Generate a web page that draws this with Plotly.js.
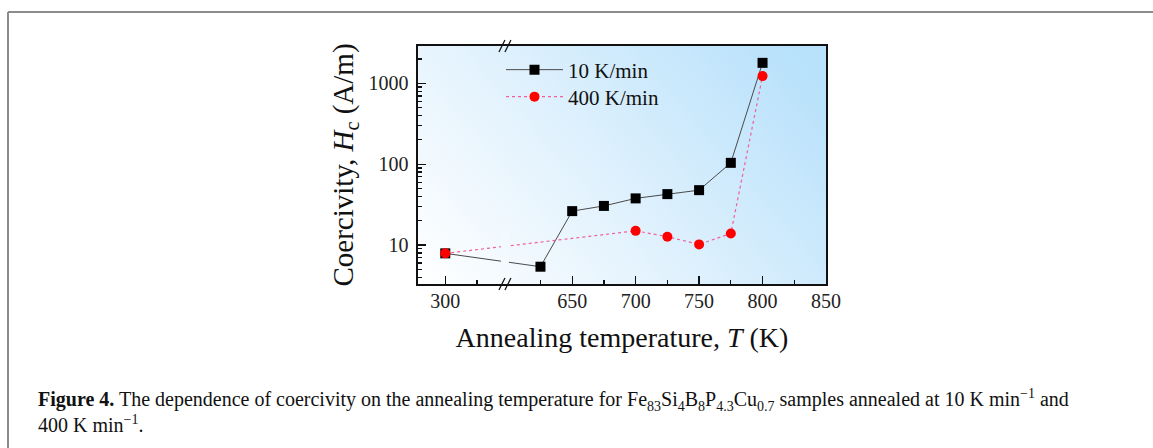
<!DOCTYPE html>
<html>
<head>
<meta charset="utf-8">
<script src="https://cdn.plot.ly/plotly-3.0.1.min.js"></script>
<style>html,body{margin:0;padding:0;background:#fff;}#chart{width:1153px;height:448px;}</style>
</head>
<body>
<div id="chart"></div>
<script>
// ---- data ----
var temps10 = [300, 625, 650, 675, 700, 725, 750, 775, 800];
var hc10 = [7.9, 5.4, 26.3, 30.5, 37.8, 42.7, 47.8, 104, 1795];
var temps400 = [300, 700, 725, 750, 775, 800];
var hc400 = [7.9, 15.0, 12.7, 10.2, 13.9, 1230];
var xTickLabels = [300, 650, 700, 750, 800, 850];
var xMinorTicks = [575, 625, 675, 725, 775, 825];
var yTickVals = [10, 100, 1000];
var seriesNames = ['10 K/min', '400 K/min'];

// ---- broken x axis: values below the break are shifted right ----
var breakLow = 400;      // values below this belong to the left segment
var breakShift = 250;    // 300 K drawn at axis position 550
var breakPos = 597;      // where the "//" marks sit
function axisPos(t) { return t < breakLow ? t + breakShift : t; }

// ---- pixel helpers for page furniture ----
var W = 1153, H = 448, L = 418, R = 826, T = 46, B = 284;
function pxX(p) { return (p - L) / (R - L); }
function pxY(p) { return (B - p) / (B - T); }

// gradient background for plot area
var cv = document.createElement('canvas');
cv.width = R - L; cv.height = B - T;
var ctx = cv.getContext('2d');
var g = ctx.createLinearGradient(0, cv.height, cv.width * 0.8, -cv.height * 0.2);
g.addColorStop(0, '#ffffff');
g.addColorStop(0.45, '#e2f2fd');
g.addColorStop(1, '#b8e1fb');
ctx.fillStyle = g;
ctx.fillRect(0, 0, cv.width, cv.height);
var bgURL = cv.toDataURL('image/png');

var serif = 'Liberation Serif, Times New Roman, serif';

var traces = [
  {
    x: temps10.map(axisPos), y: hc10, name: seriesNames[0], legend: 'legend',
    type: 'scatter', mode: 'lines+markers',
    line: {color: '#4a4a4a', width: 1},
    marker: {symbol: 'square', size: 10, color: '#000000'}
  },
  {
    x: temps400.map(axisPos), y: hc400, name: seriesNames[1], legend: 'legend2',
    type: 'scatter', mode: 'lines+markers',
    line: {color: '#f0609a', width: 1.2, dash: 'dot'},
    marker: {symbol: 'circle', size: 10, color: '#ff0000'}
  }
];

function slash(yPaper, dx) {
  return {type: 'line', xref: 'x', yref: 'paper', xsizemode: 'pixel', ysizemode: 'pixel',
    xanchor: breakPos, yanchor: yPaper, x0: dx - 3, x1: dx + 3, y0: -6, y1: 6,
    line: {color: '#111', width: 1.3}, layer: 'above'};
}

var shapes = [
  // gap in the connecting lines at the axis break
  {type: 'rect', xref: 'x', yref: 'paper', xsizemode: 'pixel', xanchor: breakPos,
   x0: -4, x1: 4, y0: 0.04, y1: 0.22, fillcolor: 'rgb(243,250,254)', line: {width: 0}, layer: 'above'},
  slash(0, -3), slash(0, 3), slash(1, -3), slash(1, 3),
  // page border (top and left)
  {type: 'line', xref: 'paper', yref: 'paper', x0: pxX(8), x1: pxX(W + 5), y0: pxY(12), y1: pxY(12),
   line: {color: '#8c8c8c', width: 2}},
  {type: 'line', xref: 'paper', yref: 'paper', x0: pxX(8), x1: pxX(8), y0: pxY(12), y1: pxY(H + 5),
   line: {color: '#8c8c8c', width: 2}}
];

function legendAt(yPx) {
  return {x: pxX(501), y: pxY(yPx), xanchor: 'left', yanchor: 'middle',
    bgcolor: 'rgba(0,0,0,0)', itemwidth: 57, borderwidth: 0,
    font: {family: serif, size: 21, color: '#111'}};
}

var layout = {
  width: W, height: H,
  margin: {l: L, r: W - R, t: T, b: H - B, pad: 0},
  paper_bgcolor: '#ffffff',
  plot_bgcolor: 'rgba(0,0,0,0)',
  showlegend: true,
  legend: legendAt(70),
  legend2: legendAt(97),
  images: [{source: bgURL, xref: 'paper', yref: 'paper', x: 0, y: 1, sizex: 1, sizey: 1,
    sizing: 'stretch', xanchor: 'left', yanchor: 'top', layer: 'below'}],
  xaxis: {
    range: [528.5, 850],
    tickmode: 'array', tickvals: xTickLabels.map(axisPos), ticktext: xTickLabels.map(String),
    ticks: 'inside', ticklen: 8, tickwidth: 1.3, tickcolor: '#111',
    minor: {tickmode: 'array', tickvals: xMinorTicks, ticks: 'inside', ticklen: 4, tickwidth: 1.2, tickcolor: '#111', showgrid: false},
    showline: true, linecolor: '#111', linewidth: 1.6, mirror: true,
    showgrid: false, zeroline: false, ticklabelstandoff: -2,
    tickfont: {family: serif, size: 20, color: '#222'},
    title: {text: 'Annealing temperature, <i>T</i> (K)', font: {family: serif, size: 28, color: '#111'}, standoff: 17}
  },
  yaxis: {
    type: 'log', range: [Math.log10(3.3), Math.log10(2900)],
    tickmode: 'array', tickvals: yTickVals, ticktext: yTickVals.map(String),
    ticks: 'inside', ticklen: 8, tickwidth: 1.3, tickcolor: '#111',
    minor: {dtick: 'D1', ticks: 'inside', ticklen: 4, tickwidth: 1.2, tickcolor: '#111', showgrid: false},
    showline: true, linecolor: '#111', linewidth: 1.6, mirror: true,
    showgrid: false, zeroline: false, ticklabelstandoff: 4,
    tickfont: {family: serif, size: 20, color: '#222'},
    title: {text: 'Coercivity, <i>H</i><sub>c</sub> (A/m)', font: {family: serif, size: 29, color: '#111'}, standoff: 6}
  },
  shapes: shapes,
  annotations: [{
    xref: 'paper', yref: 'paper', x: pxX(36), y: pxY(384), xanchor: 'left', yanchor: 'top',
    align: 'left', showarrow: false,
    font: {family: serif, size: 20, color: '#111'},
    text: '<b>Figure 4.</b> The dependence of coercivity on the annealing temperature for Fe<sub>83</sub>Si<sub>4</sub>B<sub>8</sub>P<sub>4.3</sub>Cu<sub>0.7</sub> samples annealed at 10 K min<sup>\u22121</sup> and<br>400 K min<sup>\u22121</sup>.'
  }]
};

Plotly.newPlot('chart', traces, layout, {displayModeBar: false, staticPlot: true});
</script>
</body>
</html>
